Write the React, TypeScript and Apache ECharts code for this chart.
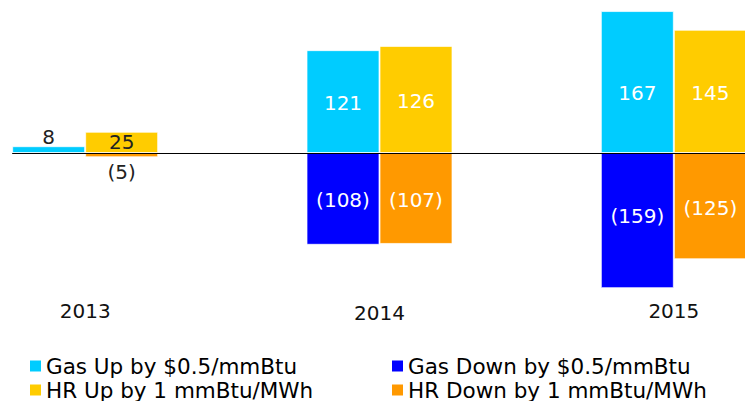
import React, { useEffect, useRef } from "react";
import * as echarts from "echarts";

const years = ["2013", "2014", "2015"];
const gasUp = [8, 121, 167];
const gasDown = [null, -108, -159];
const hrUp = [25, 126, 145];
const hrDown = [-5, -107, -125];
const seriesNames = [
  "Gas Up by $0.5/mmBtu",
  "Gas Down by $0.5/mmBtu",
  "HR Up by 1 mmBtu/MWh",
  "HR Down by 1 mmBtu/MWh",
];
const colors = ["#00CCFF", "#0000FF", "#FFCC00", "#FF9900"];

const FONT = "DejaVu Sans";
const Y_MIN = -180;
const Y_MAX = 180;
const GRID_TOP = 0;
const GRID_H = 306;
const PX = GRID_H / (Y_MAX - Y_MIN);
const CLIP = 145;

function fmt(v: number) {
  return v < 0 ? `(${-v})` : `${v}`;
}

function buildData(values: (number | null)[]) {
  return values.map((v) => {
    if (v == null) return null;
    const small = Math.abs(v) < 30;
    const tiny = Math.abs(v) < 15;
    const clamped = Math.max(-CLIP, Math.min(CLIP, v));
    const off = ((v - clamped) / 2) * PX + 1.5;
    let label: any;
    if (small) {
      label = {
        show: true,
        color: "#222",
        position: tiny ? (v >= 0 ? "top" : "bottom") : "inside",
        distance: tiny ? (v >= 0 ? -1 : 5) : 5,
      };
    } else {
      label = { show: true, color: "#fff", position: "inside", offset: [0, off] };
    }
    return { value: v, label };
  });
}

const legendBase = {
  top: 355,
  height: 60,
  padding: 0,
  orient: "vertical",
  itemWidth: 11,
  itemHeight: 11,
  itemGap: 2,
  icon: "rect",
  itemStyle: { borderWidth: 0 },
  textStyle: { fontFamily: FONT, fontSize: 21.5, color: "#000" },
};

export default function App() {
  const ref = useRef<HTMLDivElement>(null);
  useEffect(() => {
    if (!ref.current) return;
    const chart = echarts.init(ref.current, null, { renderer: "svg" });
    const mk = (name: string, data: (number | null)[], stack: string, color: string) => ({
      name,
      type: "bar",
      stack,
      barWidth: 73,
      barGap: "0%",
      data: buildData(data),
      itemStyle: { color, borderColor: "rgba(255,255,255,0.7)", borderWidth: 1 },
      label: {
        show: true,
        fontFamily: FONT,
        fontSize: 20,
        formatter: (p: any) => fmt(p.value),
      },
    });
    chart.setOption({
      animation: false,
      textStyle: { fontFamily: FONT },
      grid: {
        left: -62,
        width: 883,
        top: GRID_TOP,
        height: GRID_H,
        containLabel: false,
        outerBoundsMode: "none",
      },
      xAxis: {
        type: "category",
        data: years.map((y, i) =>
          i === 1 ? { value: y, textStyle: { padding: [2, 0, 0, 0] } } : y
        ),
        position: "bottom",
        axisLine: { show: false },
        axisTick: { show: false },
        axisLabel: { fontFamily: FONT, fontSize: 20, color: "#111", margin: -5 },
      },
      yAxis: {
        type: "value",
        min: Y_MIN,
        max: Y_MAX,
        show: false,
        splitLine: { show: false },
      },
      legend: [
        { ...legendBase, left: 30, data: [seriesNames[0], seriesNames[2]] },
        { ...legendBase, left: 392, data: [seriesNames[1], seriesNames[3]] },
      ],
      series: [
        mk(seriesNames[0], gasUp, "gas", colors[0]),
        mk(seriesNames[1], gasDown, "gas", colors[1]),
        mk(seriesNames[2], hrUp, "hr", colors[2]),
        mk(seriesNames[3], hrDown, "hr", colors[3]),
      ],
    });
    const y0 = Math.round(chart.convertToPixel({ yAxisIndex: 0 }, 0) as number) + 0.5;
    const cx = chart.convertToPixel({ xAxisIndex: 0 }, years[0]) as number;
    chart.setOption({
      graphic: [
        {
          type: "line",
          z: 10,
          shape: { x1: cx - 73, y1: y0, x2: chart.getWidth(), y2: y0 },
          style: { stroke: "#000", lineWidth: 1 },
        },
      ],
    });
    return () => chart.dispose();
  }, []);
  return <div ref={ref} style={{ width: 745, height: 401, position: "absolute", left: 0, top: 0 }} />;
}
